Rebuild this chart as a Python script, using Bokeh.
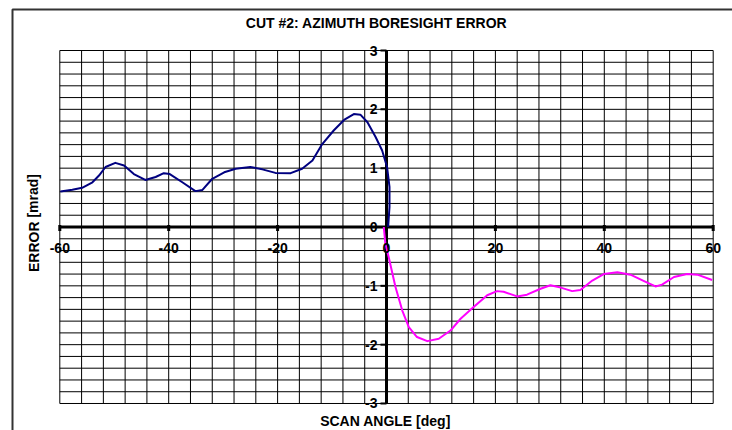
from bokeh.plotting import figure
from bokeh.models import Range1d
from bokeh.core.properties import value
from bokeh.embed import file_html
from bokeh.resources import INLINE

# ---- data ----
title_text = "CUT #2: AZIMUTH BORESIGHT ERROR"
x_label = "SCAN ANGLE [deg]"
y_label = "ERROR [mrad]"

x_ticks = [-60, -40, -20, 0, 20, 40, 60]
x_tick_labels = ["-60", "-40", "-20", "0", "20", "40", "60"]
y_ticks = [-3, -2, -1, 0, 1, 2, 3]
y_tick_labels = ["-3", "-2", "-1", "0", "1", "2", "3"]
x_grid = list(range(-60, 61, 4))
y_grid = [round(-3 + 0.2 * i, 1) for i in range(31)]

neg_x = [-59.9, -57.7, -55.9, -54.0, -52.8, -51.6, -49.8, -48.2, -46.4, -44.3, -42.4,
         -40.9, -39.8, -37.5, -35.1, -33.8, -32.0, -29.8, -27.7, -25.0, -22.8, -20.4,
         -17.6, -15.5, -13.6, -11.8, -9.7, -7.8, -6.0, -4.8, -3.5, -2.0, -0.8, 0.1,
         0.55, 0.55, 0.3]
neg_y = [0.603, 0.632, 0.666, 0.76, 0.875, 1.02, 1.09, 1.045, 0.90, 0.80, 0.85,
         0.915, 0.90, 0.76, 0.61, 0.63, 0.82, 0.93, 0.99, 1.02, 0.98, 0.92,
         0.915, 0.99, 1.13, 1.41, 1.64, 1.82, 1.92, 1.91, 1.78, 1.53, 1.30, 1.02,
         0.68, 0.34, 0.0]

pos_x = [-0.5, -0.2, 0.4, 1.65, 2.9, 4.1, 5.6, 7.5, 9.6, 11.75, 13.6, 16.0, 18.5,
         20.3, 21.5, 24.0, 25.8, 28.3, 30.1, 32.0, 34.1, 35.6, 37.8, 39.9, 42.4,
         44.8, 47.3, 49.4, 50.6, 52.8, 55.2, 57.1, 59.8]
pos_y = [0.0, -0.29, -0.51, -1.02, -1.42, -1.70, -1.87, -1.94, -1.90, -1.76, -1.56,
         -1.36, -1.16, -1.09, -1.10, -1.18, -1.15, -1.05, -0.99, -1.03, -1.09, -1.07,
         -0.91, -0.80, -0.77, -0.81, -0.92, -1.01, -0.98, -0.85, -0.80, -0.81, -0.90]

FONT = value("Liberation Sans")
FS = "14px"
XMIN, XMAX, YMIN, YMAX = -60, 60, -3, 3

# screen scale: px per deg / per mrad; the frame covers the whole canvas
PX_X = 5.445
PX_Y = 58.83
W, H = 732, 430
x0_px, y0_px = 386.0, 226.5   # canvas position of the origin
x_range = Range1d(-x0_px / PX_X, (W - x0_px) / PX_X)
y_range = Range1d(-(H - y0_px) / PX_Y, y0_px / PX_Y)

p = figure(width=W, height=H, x_range=x_range, y_range=y_range,
           output_backend="svg", toolbar_location=None, title=None,
           x_axis_type=None, y_axis_type=None, min_border=0)
p.outline_line_color = None
p.background_fill_color = "white"
p.border_fill_color = "white"
p.xgrid.visible = False
p.ygrid.visible = False

def dx(px):
    return px / PX_X

def dy(px):
    return px / PX_Y

# outer chart border
p.quad(left=[x_range.start + dx(12)], right=[x_range.end + dx(20)],
       top=[y_range.end - dy(9)], bottom=[y_range.start - dy(20)],
       fill_color=None, line_color="#333333", line_width=2)

# grid
p.segment(x0=x_grid, x1=x_grid, y0=[YMIN] * len(x_grid), y1=[YMAX] * len(x_grid),
          line_color="black", line_width=1)
p.segment(x0=[XMIN] * len(y_grid), x1=[XMAX] * len(y_grid), y0=y_grid, y1=y_grid,
          line_color="black", line_width=1)

# axes through origin
p.segment(x0=[XMIN], x1=[XMAX], y0=[0], y1=[0], line_color="black", line_width=3)
p.segment(x0=[0], x1=[0], y0=[YMIN], y1=[YMAX], line_color="black", line_width=3)

# ticks
p.segment(x0=x_ticks, x1=x_ticks, y0=[-dy(4)] * len(x_ticks), y1=[dy(2)] * len(x_ticks),
          line_color="black", line_width=3)
p.segment(x0=[-dx(6)] * len(y_ticks), x1=[0] * len(y_ticks), y0=y_ticks, y1=y_ticks,
          line_color="black", line_width=2)

# curves
p.line(neg_x, neg_y, line_color="#000080", line_width=2, line_join="round")
p.line(pos_x, pos_y, line_color="#ff00ff", line_width=2, line_join="round")

# tick labels
p.text(x=x_ticks, y=[-dy(21)] * len(x_ticks), text=x_tick_labels, text_font=FONT,
       text_font_style="bold", text_font_size=FS, text_align="center",
       text_baseline="middle", text_color="black")
p.text(x=[-dx(9)] * len(y_ticks), y=y_ticks, text=y_tick_labels, text_font=FONT,
       text_font_style="bold", text_font_size=FS, text_align="right",
       text_baseline="middle", text_color="black")

# titles
p.text(x=[dx(-10)], y=[dy(y0_px - 22)], text=[title_text], text_font=FONT,
       text_font_style="bold", text_font_size=FS, text_align="center",
       text_baseline="middle", text_color="black")
p.text(x=[dx(-1)], y=[-dy(420 - y0_px)], text=[x_label], text_font=FONT,
       text_font_style="bold", text_font_size=FS, text_align="center",
       text_baseline="middle", text_color="black")
p.text(x=[-dx(x0_px - 33)], y=[dy(4)], text=[y_label], text_font=FONT,
       text_font_style="bold", text_font_size=FS, text_align="center",
       text_baseline="middle", text_color="black", angle=1.5708)

open("out.html", "w").write(file_html(p, INLINE))
